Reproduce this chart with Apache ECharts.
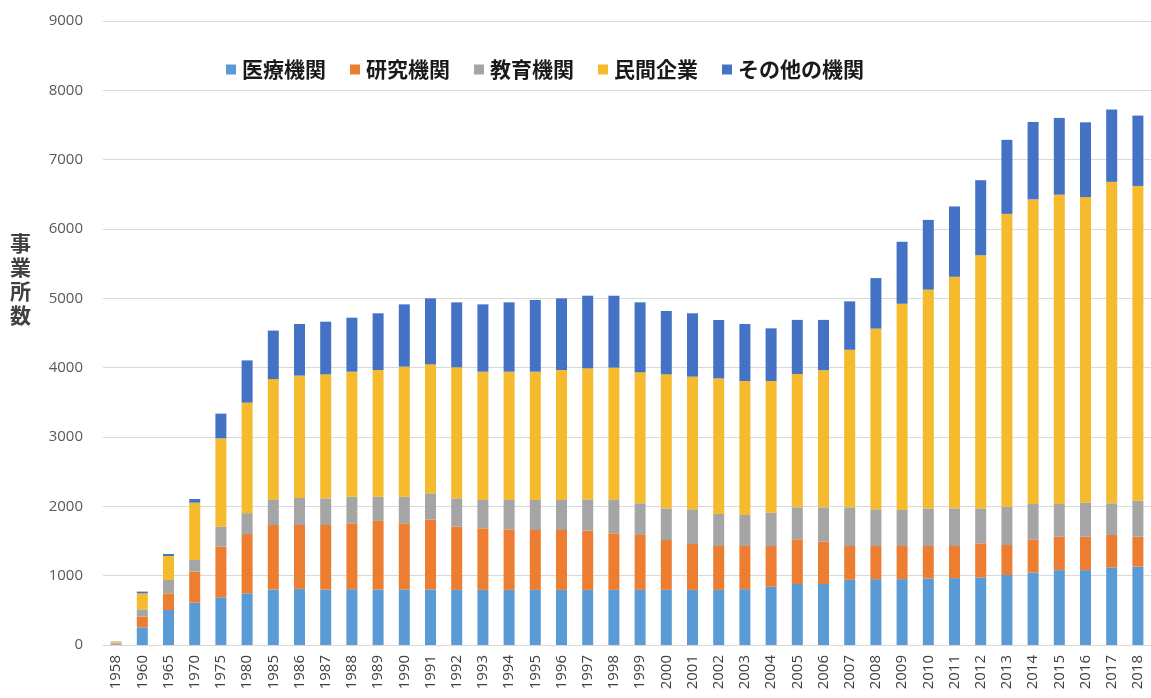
<!DOCTYPE html>
<html>
<head>
<meta charset="utf-8">
<script src="https://cdn.jsdelivr.net/npm/echarts@6/dist/echarts.min.js"></script>
<style>
html,body{margin:0;padding:0;background:#fff;}
#main{width:1151px;height:698px;}
</style>
</head>
<body>
<div id="main"></div>
<script>
const years = ['1958','1960','1965','1970','1975','1980','1985','1986','1987','1988','1989','1990','1991','1992','1993','1994','1995','1996','1997','1998','1999','2000','2001','2002','2003','2004','2005','2006','2007','2008','2009','2010','2011','2012','2013','2014','2015','2016','2017','2018'];
const seriesNames = ['医療機関','研究機関','教育機関','民間企業','その他の機関'];
const medical = [10,255,505,610,688,745,800,810,800,805,800,800,800,795,795,795,795,795,795,795,795,795,795,795,805,840,880,880,940,950,950,960,965,975,1010,1045,1080,1080,1120,1130];
const research = [10,154,240,448,730,855,931,921,931,950,990,955,1010,912,888,873,864,864,854,816,792,719,662,633,623,588,644,610,488,478,478,468,463,491,432,479,482,482,467,432];
const education = [15,105,192,168,289,302,369,389,384,384,349,384,378,408,408,423,432,432,451,489,456,457,500,461,447,481,462,496,558,529,519,543,543,505,553,510,472,491,456,520];
const privateCo = [15,231,347,827,1273,1593,1735,1765,1789,1803,1827,1875,1860,1890,1851,1851,1851,1875,1890,1900,1890,1933,1913,1957,1933,1899,1923,1977,2272,2606,2975,3155,3340,3650,4223,4393,4461,4408,4637,4539];
const others = [2,25,28,53,357,610,700,745,759,779,818,899,952,937,971,1000,1034,1034,1048,1038,1009,913,914,842,822,759,780,726,698,729,894,1005,1014,1083,1068,1117,1107,1078,1043,1015];
const yTicks = {min:0, max:9000, interval:1000};
const colors = ['#5B9BD5','#ED7D31','#A5A5A5','#F5BA2E','#4472C4'];
const values = [medical, research, education, privateCo, others];

const chart = echarts.init(document.getElementById('main'));
chart.setOption({
  animation: false,
  backgroundColor: '#fff',
  color: colors,
  grid: {left: 103, right: -8, top: 21, bottom: 53, containLabel: false},
  legend: {
    left: 221, top: 54,
    icon: 'rect', itemWidth: 10, itemHeight: 10, itemGap: 24,
    textStyle: {fontFamily: 'Noto Sans CJK JP', fontSize: 21, fontWeight: 'bold', color: '#1a1a1a', padding: [0,0,0,1]},
    data: seriesNames
  },
  xAxis: {
    type: 'category', data: years,
    axisLine: {lineStyle: {color: '#d9d9d9', width: 1}},
    axisTick: {show: false},
    axisLabel: {interval: 0, rotate: 90, margin: 10, fontSize: 15, color: '#404040', fontFamily: 'Open Sans'}
  },
  yAxis: {
    type: 'value', min: yTicks.min, max: yTicks.max, interval: yTicks.interval,
    axisLine: {show: false}, axisTick: {show: false},
    splitLine: {lineStyle: {color: '#d9d9d9', width: 1}},
    axisLabel: {margin: 20, fontSize: 15, color: '#595959', fontFamily: 'Open Sans', formatter: v => String(v)}
  },
  graphic: [{
    type: 'text', left: 10, top: 231,
    style: {text: '事\n業\n所\n数', font: 'bold 21px "Noto Sans CJK JP"', fill: '#404040', lineHeight: 24}
  }],
  series: seriesNames.map((n, i) => ({
    name: n, type: 'bar', stack: 'total', data: values[i], barWidth: 11,
    itemStyle: {color: colors[i]}
  }))
});
</script>
</body>
</html>
